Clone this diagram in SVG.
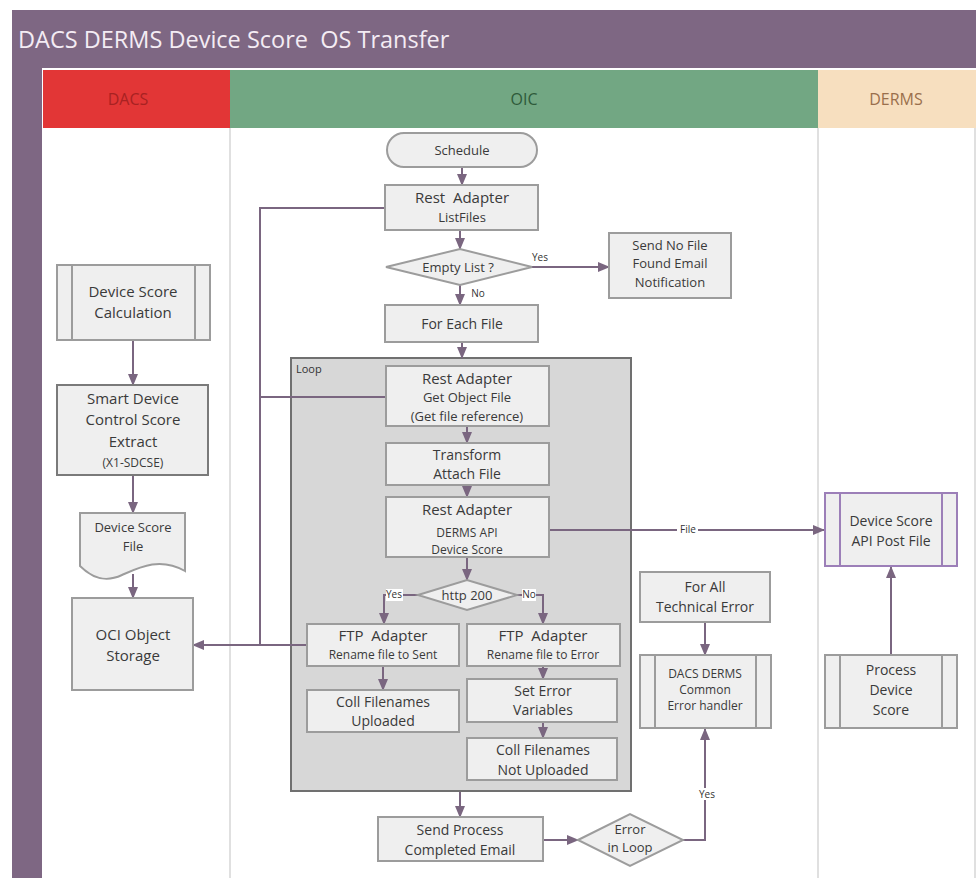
<svg xmlns="http://www.w3.org/2000/svg" width="980" height="878" viewBox="0 0 980 878">
<defs>
<marker id="arr" markerWidth="12" markerHeight="10" refX="11" refY="5" orient="auto" markerUnits="userSpaceOnUse">
<path d="M0,0 L12,5 L0,10 Z" fill="#7a6680"/>
</marker>
<style>
text{font-family:"Open Sans","Liberation Sans",sans-serif;fill:#3a3a3a;text-anchor:middle}
.n{fill:#efefef;stroke:#9c9c9c;stroke-width:2}
.sp{fill:none;stroke:#9c9c9c;stroke-width:2}
.e{fill:none;stroke:#7a6680;stroke-width:2}
.ea{fill:none;stroke:#7a6680;stroke-width:2;marker-end:url(#arr)}
.t15{font-size:15px}
.t14{font-size:14px}
.t13{font-size:13px}
.t12{font-size:12px}
.lb{font-size:10px;fill:#333}
.lbg{fill:#ffffff}
</style>
</defs>
<rect width="980" height="878" fill="#ffffff"/>
<!-- pool -->
<rect x="12" y="10" width="964" height="58" fill="#7e6783"/>
<text x="18" y="48" style="font-size:23.5px;fill:#f4ecf4;text-anchor:start">DACS DERMS Device Score&#160; OS Transfer</text>
<rect x="12" y="68" width="30" height="810" fill="#7e6783"/>
<!-- lane headers -->
<rect x="43" y="70" width="187" height="58" fill="#e23636"/>
<rect x="230" y="70" width="588" height="58" fill="#72a783"/>
<rect x="818" y="70" width="158" height="58" fill="#f7dfbf"/>
<text x="128" y="105" style="font-size:16px;fill:#a82222">DACS</text>
<text x="524" y="105" style="font-size:16px;fill:#2e5a3a">OIC</text>
<text x="896" y="105" style="font-size:16px;fill:#9a6f4c">DERMS</text>
<!-- lane dividers -->
<line x1="230" y1="128" x2="230" y2="878" stroke="#d6d6d6" stroke-width="1.5"/>
<line x1="818" y1="128" x2="818" y2="878" stroke="#d6d6d6" stroke-width="1.5"/>
<line x1="975" y1="128" x2="975" y2="878" stroke="#d6d6d6" stroke-width="1.5"/>

<!-- loop container -->
<g id="loop">
<rect x="291" y="358" width="340" height="433" fill="#d7d7d7" stroke="#707070" stroke-width="2"/>
<text x="296" y="373" style="font-size:11px;text-anchor:start;fill:#333">Loop</text>
</g>

<!-- connectors -->
<g id="connectors">
<path class="ea" d="M462,167 V185"/>
<path class="ea" d="M460,230 V249"/>
<path class="ea" d="M532,267 H609"/>
<text class="lb" x="540" y="261">Yes</text>
<path class="ea" d="M460,285 V305"/>
<text class="lb" x="478" y="297">No</text>
<path class="ea" d="M462,342 V358"/>
<path class="ea" d="M467,426 V443"/>
<path class="ea" d="M467,485 V497"/>
<path class="ea" d="M467,557 V580"/>
<path class="ea" d="M418,595 H384 V624"/>
<rect class="lbg" x="386" y="589" width="17" height="12"/>
<text class="lb" x="394" y="598">Yes</text>
<path class="ea" d="M517,595 H543 V624"/>
<rect class="lbg" x="522" y="589" width="14" height="12"/>
<text class="lb" x="529" y="598">No</text>
<path class="ea" d="M543,666 V679"/>
<path class="ea" d="M383,666 V690"/>
<path class="ea" d="M543,722 V738"/>
<path class="ea" d="M460,792 V817"/>
<path class="ea" d="M543,840 H578"/>
<path class="ea" d="M683,840 H705 V729"/>
<rect class="lbg" x="698" y="788" width="18" height="12"/>
<text class="lb" x="707" y="798">Yes</text>
<path class="ea" d="M705,622 V655"/>
<path class="ea" d="M891,655 V567"/>
<path class="ea" d="M549,530 H824"/>
<rect class="lbg" x="677" y="524" width="21" height="12"/>
<text class="lb" x="688" y="533">File</text>
<path class="e" d="M385,208 H260 V645"/>
<path class="e" d="M386,397 H260"/>
<path class="ea" d="M307,645 H193"/>
<path class="ea" d="M133,340 V385"/>
<path class="ea" d="M133,475 V513"/>
<path class="ea" d="M133,574 V598"/>
</g>

<!-- OIC nodes -->
<g id="schedule">
<rect x="387" y="133" width="150" height="34" rx="17" class="n"/>
<text class="t13" x="462" y="155">Schedule</text>
</g>
<g id="listfiles">
<rect x="385" y="185" width="153" height="45" class="n"/>
<text class="t15" x="462" y="203">Rest&#160; Adapter</text>
<text class="t13" x="462" y="222">ListFiles</text>
</g>
<g id="emptylist">
<polygon points="386,267 460,249 532,267 460,285" class="n"/>
<text class="t13" x="458" y="272">Empty List ?</text>
</g>
<g id="sendnofile">
<rect x="609" y="233" width="122" height="65" class="n"/>
<text class="t13" x="670" y="250">Send No File</text>
<text class="t13" x="670" y="268">Found Email</text>
<text class="t13" x="670" y="287">Notification</text>
</g>
<g id="foreachfile">
<rect x="385" y="305" width="153" height="37" class="n"/>
<text class="t14" x="462" y="329">For Each File</text>
</g>
<g id="getobject">
<rect x="386" y="366" width="163" height="60" class="n"/>
<text class="t15" x="467" y="384">Rest Adapter</text>
<text class="t13" x="467" y="402">Get Object File</text>
<text class="t13" x="467" y="421">(Get file reference)</text>
</g>
<g id="transform">
<rect x="386" y="443" width="163" height="42" class="n"/>
<text class="t14" x="467" y="460">Transform</text>
<text class="t14" x="467" y="479">Attach File</text>
</g>
<g id="dermsapi">
<rect x="386" y="497" width="163" height="60" class="n"/>
<text class="t15" x="467" y="515">Rest Adapter</text>
<text class="t12" x="467" y="537">DERMS API</text>
<text class="t12" x="467" y="554">Device Score</text>
</g>
<g id="http200">
<polygon points="418,595 467,580 517,595 467,610" class="n"/>
<text class="t13" x="467" y="600">http 200</text>
</g>
<g id="ftpsent">
<rect x="307" y="624" width="152" height="42" class="n"/>
<text class="t15" x="383" y="641">FTP&#160; Adapter</text>
<text class="t12" x="383" y="659">Rename file to Sent</text>
</g>
<g id="ftperror">
<rect x="467" y="624" width="153" height="42" class="n"/>
<text class="t15" x="543" y="641">FTP&#160; Adapter</text>
<text class="t12" x="543" y="659">Rename file to Error</text>
</g>
<g id="collup">
<rect x="307" y="690" width="152" height="42" class="n"/>
<text class="t14" x="383" y="707">Coll Filenames</text>
<text class="t14" x="383" y="726">Uploaded</text>
</g>
<g id="seterror">
<rect x="467" y="679" width="150" height="43" class="n"/>
<text class="t14" x="543" y="696">Set Error</text>
<text class="t14" x="543" y="715">Variables</text>
</g>
<g id="collnotup">
<rect x="467" y="738" width="150" height="42" class="n"/>
<text class="t14" x="543" y="755">Coll Filenames</text>
<text class="t14" x="543" y="775">Not Uploaded</text>
</g>
<g id="sendprocess">
<rect x="378" y="817" width="165" height="44" class="n"/>
<text class="t14" x="460" y="835">Send Process</text>
<text class="t14" x="460" y="855">Completed Email</text>
</g>
<g id="errorinloop">
<polygon points="578,840 630,814 683,840 630,866" class="n"/>
<text class="t13" x="630" y="834">Error</text>
<text class="t13" x="630" y="852">in Loop</text>
</g>
<g id="foralltech">
<rect x="640" y="572" width="130" height="50" class="n"/>
<text class="t14" x="705" y="592">For All</text>
<text class="t14" x="705" y="612">Technical Error</text>
</g>
<g id="errorhandler">
<rect x="640" y="655" width="131" height="73" class="n"/>
<line x1="655" y1="655" x2="655" y2="728" class="sp"/>
<line x1="756" y1="655" x2="756" y2="728" class="sp"/>
<text class="t12" x="705" y="678">DACS DERMS</text>
<text class="t12" x="705" y="694">Common</text>
<text class="t12" x="705" y="710">Error handler</text>
</g>

<!-- DERMS nodes -->
<g id="apipostfile">
<rect x="825" y="493" width="132" height="73" fill="#efefef" stroke="#9c7fb8" stroke-width="2"/>
<line x1="840" y1="493" x2="840" y2="566" stroke="#9c7fb8" stroke-width="2"/>
<line x1="942" y1="493" x2="942" y2="566" stroke="#9c7fb8" stroke-width="2"/>
<text class="t14" x="891" y="526">Device Score</text>
<text class="t14" x="891" y="546">API Post File</text>
</g>
<g id="processdevicescore">
<rect x="825" y="655" width="132" height="73" class="n"/>
<line x1="840" y1="655" x2="840" y2="728" class="sp"/>
<line x1="942" y1="655" x2="942" y2="728" class="sp"/>
<text class="t14" x="891" y="675">Process</text>
<text class="t14" x="891" y="695">Device</text>
<text class="t14" x="891" y="715">Score</text>
</g>

<!-- DACS nodes -->
<g id="devicescorecalc">
<rect x="57" y="265" width="153" height="75" class="n"/>
<line x1="72" y1="265" x2="72" y2="340" class="sp"/>
<line x1="195" y1="265" x2="195" y2="340" class="sp"/>
<text class="t15" x="133" y="297">Device Score</text>
<text class="t15" x="133" y="318">Calculation</text>
</g>
<g id="smartdevice">
<rect x="57" y="385" width="151" height="90" fill="#efefef" stroke="#7a7a7a" stroke-width="2"/>
<text class="t15" x="133" y="404">Smart Device</text>
<text class="t15" x="133" y="425">Control Score</text>
<text class="t15" x="133" y="447">Extract</text>
<text class="t12" x="133" y="467">(X1-SDCSE)</text>
</g>
<g id="devicescorefile">
<path d="M80,513 H185 V571 C160,557 140,567 122,575 C105,583 92,578 80,566 Z" class="n"/>
<text class="t13" x="133" y="532">Device Score</text>
<text class="t13" x="133" y="551">File</text>
</g>
<g id="ocistorage">
<rect x="72" y="598" width="121" height="92" class="n"/>
<text class="t15" x="133" y="640">OCI Object</text>
<text class="t15" x="133" y="661">Storage</text>
</g>
</svg>
